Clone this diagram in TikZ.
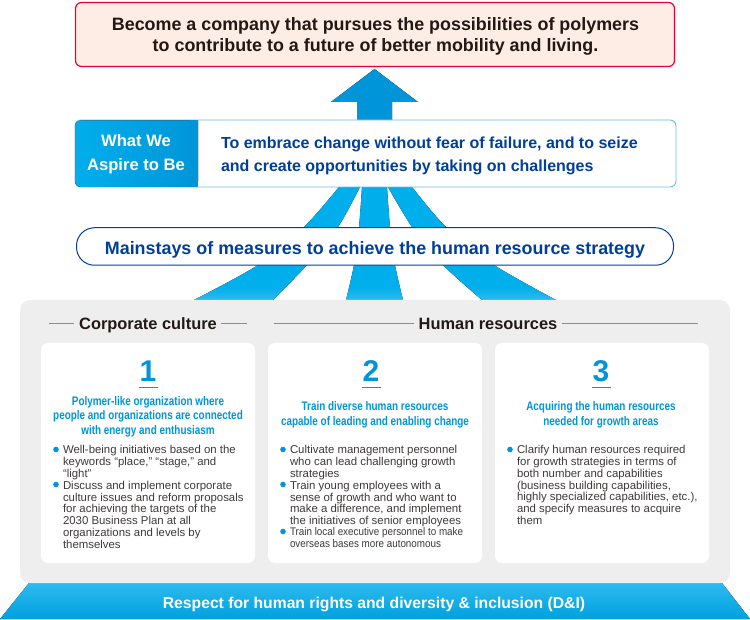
\documentclass[tikz,border=0pt]{standalone}
\usepackage{fontspec}
\setmainfont{Liberation Sans}
\newfontfamily\condfont[FakeStretch=0.80]{Liberation Sans}
\newfontfamily\semifont[FakeStretch=0.895]{Liberation Sans}
\usetikzlibrary{shapes.geometric}
\definecolor{cyanA}{HTML}{0095D9}
\definecolor{rayC}{HTML}{00AEEB}
\definecolor{rayL}{HTML}{2DBBEE}
\definecolor{bandB}{HTML}{00A0E0}
\definecolor{navy}{HTML}{003F98}
\definecolor{inkD}{HTML}{231815}
\definecolor{bodyT}{HTML}{3E3A39}
\definecolor{panelG}{HTML}{EEEEEE}
\definecolor{redB}{HTML}{E60033}
\definecolor{redF}{HTML}{FDEDE4}
\definecolor{skyB}{HTML}{6DB9E8}
\definecolor{ruleG}{HTML}{8C8C8C}
\pgfdeclareverticalshading{raygrad}{100bp}{color(0bp)=(rayL); color(25bp)=(rayL); color(31bp)=(rayC); color(100bp)=(rayC)}
\tikzset{
  x=1pt,y=-1pt,
  inner sep=0pt,outer sep=0pt,
  raylow/.style={shading=raygrad},
  cardbox/.style={fill=white,rounded corners=7pt},
  bodytxt/.style={anchor=north west,align=left,text=bodyT,font=\fontsize{11.4}{11.75}\selectfont},
  headtxt/.style={align=center,text=cyanA,font=\condfont\bfseries\fontsize{12.4}{14.6}\selectfont},
  numtxt/.style={text=cyanA,font=\bfseries\fontsize{30}{30}\selectfont},
  dotmark/.style={circle,fill=cyanA,minimum size=5.6pt},
  sectxt/.style={text=inkD,font=\bfseries\fontsize{16.4}{16.4}\selectfont},
  secrule/.style={draw=ruleG,line width=.8pt},
  numrule/.style={draw=cyanA,line width=.8pt},
}
\begin{document}
\begin{tikzpicture}
\useasboundingbox (0,0) rectangle (750,620);
% rays
\fill[raylow] plot[smooth] coordinates {(339,187)(304,227)(258,265)(194,300)} -- plot[smooth] coordinates {(273,300)(307,265)(338,227)(360,187)} -- cycle;
\fill[raylow] plot[smooth] coordinates {(362,187)(359,227)(354,265)(346,300)} -- plot[smooth] coordinates {(403,300)(395,265)(390,227)(387,187)} -- cycle;
\fill[raylow] plot[smooth] coordinates {(388,187)(412,227)(443,265)(482,300)} -- plot[smooth] coordinates {(556,300)(494,265)(446,227)(412,187)} -- cycle;
% big arrow
\fill[top color=cyanA,bottom color=cyanA] (374.5,69) -- (418,102) -- (392,102) -- (392,121) -- (357,121) -- (357,102) -- (331,102) -- cycle;
% goal
\node[draw=redB,fill=redF,line width=1.2pt,rounded corners=6pt,minimum width=599pt,minimum height=64pt] (goal) at (375,34.5) {};
\node[align=center,text=inkD,font=\bfseries\fontsize{17.9}{21}\selectfont] (goaltxt) at (375.5,36.5)
  {Become a company that pursues the possibilities of polymers\\to contribute to a future of better mobility and living.};
% aspire
\node[draw=skyB,fill=white,line width=.9pt,rounded corners=6pt,minimum width=601pt,minimum height=67pt] (aspire) at (375.5,153.5) {};
\fill[left color=rayC,right color=cyanA,rounded corners=6pt] (75,120.5) -- (75,187) -- (198,187) [sharp corners] -- (198,120.5) [rounded corners=6pt] -- cycle;
\fill[cyanA] (190,120.5) rectangle (198,187);
\node[align=center,text=white,font=\bfseries\fontsize{16.6}{23.7}\selectfont] (tag) at (136,154.5) {What We\\Aspire to Be};
\node[anchor=west,align=left,text=navy,font=\bfseries\fontsize{16}{23.5}\selectfont] (aspiretxt) at (221,156)
  {To embrace change without fear of failure, and to seize\\and create opportunities by taking on challenges};
% mainstays
\node[draw=navy,fill=white,line width=1pt,rounded corners=18pt,minimum width=597pt,minimum height=37.5pt] (main) at (375,246.5) {};
\node[text=navy,font=\bfseries\fontsize{17.9}{20}\selectfont] (maintxt) at (375,250)
  {Mainstays of measures to achieve the human resource strategy};
% base band
\fill[top color=rayL,bottom color=bandB] (29,583) -- (722,583) -- (750,619) -- (0,619) -- cycle;
\node[text=white,font=\bfseries\fontsize{15.7}{15.7}\selectfont] (base) at (374,604)
  {Respect for human rights and diversity \& inclusion (D\&I)};
% panel
\fill[panelG,rounded corners=10pt] (20,300) rectangle (730,583);
\coordinate (c1l) at (49,323); \coordinate (c1m) at (74,323);
\coordinate (c1n) at (221,323); \coordinate (c1r) at (247,323);
\coordinate (h1l) at (274,323); \coordinate (h1m) at (414,323);
\coordinate (h1n) at (562,323); \coordinate (h1r) at (698,323);
\draw[secrule] (c1l) -- (c1m); \draw[secrule] (c1n) -- (c1r);
\draw[secrule] (h1l) -- (h1m); \draw[secrule] (h1n) -- (h1r);
\node[sectxt] (corp) at (148,325.5) {Corporate culture};
\node[sectxt] (hr) at (488,323.5) {Human resources};
% cards
\fill[cardbox] (41,343) rectangle (255,563);
\fill[cardbox] (268,343) rectangle (482,563);
\fill[cardbox] (495,343) rectangle (709,563);
\node[numtxt] (n1) at (148,371) {1};
\node[numtxt] (n2) at (371,371) {2};
\node[numtxt] (n3) at (601,371) {3};
\draw[numrule] (139,387.5) -- (157.5,387.5);
\draw[numrule] (362,387.5) -- (380.5,387.5);
\draw[numrule] (592,387.5) -- (611,387.5);
\node[headtxt] (h1) at (148,416.5) {Polymer-like organization where\\people and organizations are connected\\with energy and enthusiasm};
\node[headtxt] (h2) at (375,415) {Train diverse human resources\\capable of leading and enabling change};
\node[headtxt] (h3) at (601,415) {Acquiring the human resources\\needed for growth areas};
% card 1 body
\node[dotmark] (d1a) at (56,449.5) {};
\node[dotmark] (d1b) at (56,484.5) {};
\node[bodytxt] (b1a) at (63,445.5) {Well-being initiatives based on the\\keywords “place,” “stage,” and\\“light”};
\node[bodytxt] (b1b) at (63,481) {Discuss and implement corporate\\culture issues and reform proposals\\for achieving the targets of the\\2030 Business Plan at all\\organizations and levels by\\themselves};
% card 2 body
\node[dotmark] (d2a) at (283,449.5) {};
\node[dotmark] (d2b) at (283,484.5) {};
\node[dotmark] (d2c) at (283,531.5) {};
\node[bodytxt] (b2a) at (290,445.5) {Cultivate management personnel\\who can lead challenging growth\\strategies};
\node[bodytxt] (b2b) at (290,481) {Train young employees with a\\sense of growth and who want to\\make a difference, and implement\\the initiatives of senior employees};
\node[bodytxt,font=\semifont\fontsize{11}{11.9}\selectfont] (b2c) at (290,528) {Train local executive personnel to make\\overseas bases more autonomous};
% card 3 body
\node[dotmark] (d3a) at (510,449.5) {};
\node[bodytxt] (b3a) at (517,445.5) {Clarify human resources required\\for growth strategies in terms of\\both number and capabilities\\(business building capabilities,\\highly specialized capabilities, etc.),\\and specify measures to acquire\\them};
\end{tikzpicture}
\end{document}
